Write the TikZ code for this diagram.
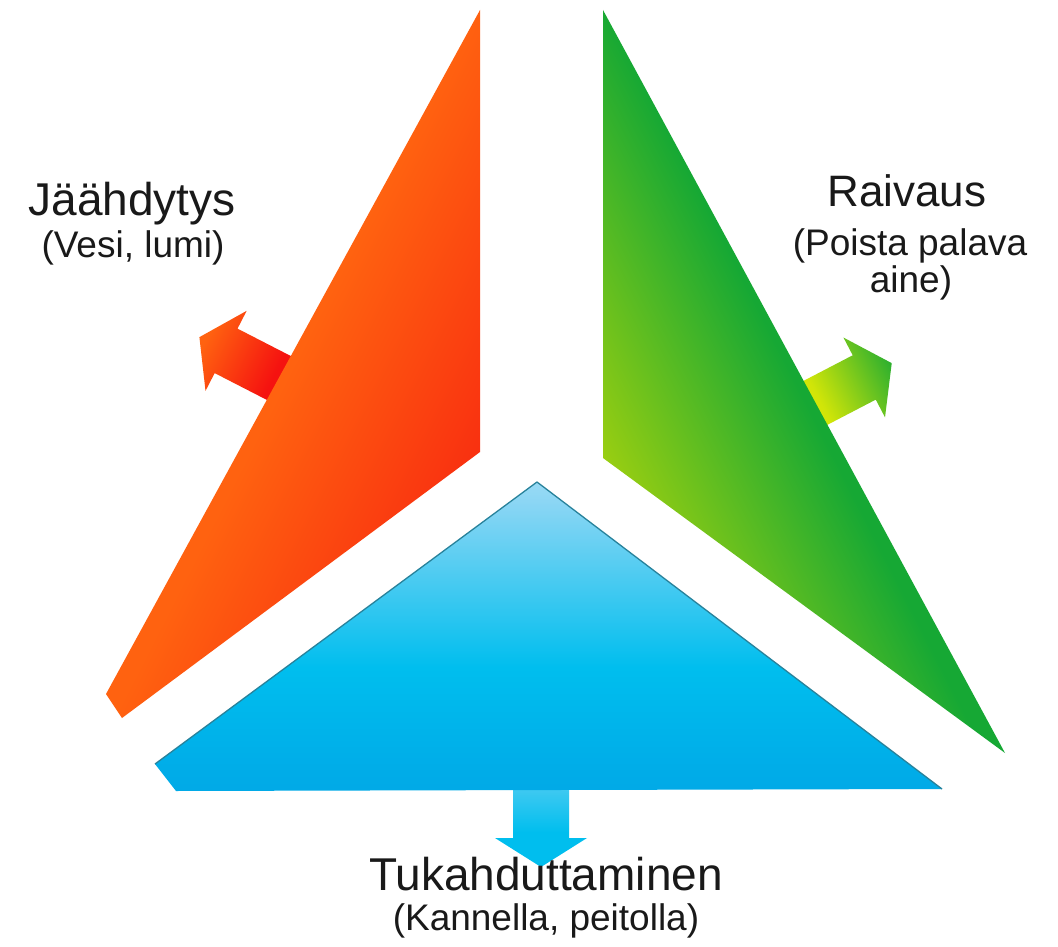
\documentclass[tikz,border=0pt]{standalone}
\usepackage{fontspec}
\setmainfont{Liberation Sans}
\definecolor{cOrange}{RGB}{255,98,16}
\definecolor{cRed}{RGB}{245,18,16}
\definecolor{cGreen}{RGB}{22,168,52}
\definecolor{cYGreen}{RGB}{150,205,18}
\definecolor{cYellow}{RGB}{242,240,0}
\definecolor{cBlue}{RGB}{12,148,220}
\definecolor{cBlueM}{RGB}{0,172,232}
\definecolor{cBlueC}{RGB}{0,190,238}
\definecolor{cBlueL}{RGB}{140,214,244}
\definecolor{cBlueV}{RGB}{200,234,248}
\definecolor{cBlueP}{RGB}{238,249,253}
\definecolor{cBlueEdge}{RGB}{40,130,155}
\definecolor{cText}{RGB}{25,25,25}
\pgfdeclarehorizontalshading{redshade}{100bp}{color(0bp)=(cOrange); color(38bp)=(cOrange); color(84bp)=(cRed); color(100bp)=(cRed)}
\pgfdeclarehorizontalshading{greenshade}{100bp}{color(0bp)=(cGreen); color(38bp)=(cGreen); color(66bp)=(cYGreen); color(81bp)=(cYellow); color(100bp)=(cYellow)}
\pgfdeclareverticalshading{blueshade}{100bp}{color(0bp)=(cBlue); color(28bp)=(cBlueM); color(45bp)=(cBlueC); color(72bp)=(cBlueL); color(86bp)=(cBlueV); color(100bp)=(cBlueP)}
\pgfdeclarehorizontalshading{redarrow}{100bp}{color(0bp)=(cRed); color(35bp)=(cRed); color(72bp)=(cOrange); color(100bp)=(cOrange)}
\pgfdeclarehorizontalshading{greenarrow}{100bp}{color(0bp)=(cYellow); color(35bp)=(cYellow!85!cGreen); color(75bp)=(cGreen!90!cYellow); color(100bp)=(cGreen!90!cYellow)}
\pgfdeclareverticalshading{bluearrow}{100bp}{color(0bp)=(cBlueC); color(45bp)=(cBlueC); color(100bp)=(cBlueL)}
\tikzset{
  titletext/.style={anchor=base, inner sep=0pt, text=cText, font=\fontsize{46}{50}\selectfont},
  subtext/.style={anchor=base, inner sep=0pt, text=cText, font=\fontsize{37}{40}\selectfont},
}
\begin{document}
\begin{tikzpicture}[x=1pt,y=-1pt]
\useasboundingbox[fill=white] (0,0) rectangle (1058,947);

% arrows (drawn first, bases tucked behind triangles)
\begin{scope}[transform canvas={shift={(275,376)},rotate=152.8}]
  \shade[shading=redarrow] (-20,-25) -- (55,-25) -- (55,-45) -- (85,0) -- (55,45) -- (55,25) -- (-20,25) -- cycle;
\end{scope}
\begin{scope}[transform canvas={shift={(819,401)},rotate=27.5}]
  \shade[shading=greenarrow] (-20,-25) -- (51,-25) -- (51,-45) -- (82,0) -- (51,45) -- (51,25) -- (-20,25) -- cycle;
\end{scope}
\shade[shading=bluearrow] (513,780) -- (569,780) -- (569,838) -- (587,838) -- (541,867) -- (495,838) -- (513,838) -- cycle;

% red triangle
\begin{scope}
  \clip (480,10) -- (480,452) -- (122,718) -- (106,694) -- cycle;
  \begin{scope}[transform canvas={shift={(480,452)},rotate=-27}]
    \shade[shading=redshade] (-300,-480) rectangle (60,480);
  \end{scope}
\end{scope}

% green triangle
\begin{scope}
  \clip (603,10) -- (1005,753) -- (603,458) -- cycle;
  \begin{scope}[transform canvas={shift={(603,458)},rotate=207}]
    \shade[shading=greenshade] (-300,-480) rectangle (60,480);
  \end{scope}
\end{scope}

% blue triangle
\shade[shading=blueshade]
  (537,482) -- (942,789) -- (176,791) -- (155,764) -- cycle;
\draw[cBlueEdge, line width=1.3pt, line join=round] (155,764) -- (537,482) -- (942,789);

% texts
\node[titletext] (t1) at (132,215) {Jäähdytys};
\node[subtext] (s1) at (133,257) {(Vesi, lumi)};
\node[titletext, font=\fontsize{44}{48}\selectfont] (t2) at (907,207) {Raivaus};
\node[subtext] (s2a) at (910,255) {(Poista palava};
\node[subtext] (s2b) at (911,292) {aine)};
\node[titletext] (t3) at (546,890) {Tukahduttaminen};
\node[subtext] (s3) at (546,930) {(Kannella, peitolla)};
\end{tikzpicture}
\end{document}
